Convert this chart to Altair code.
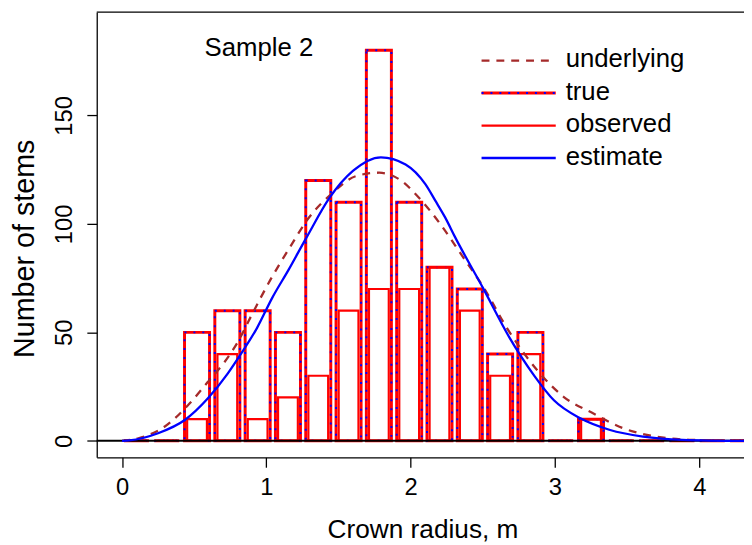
import altair as alt
import pandas as pd

# ---------------- data ----------------
bin_centers = [0.10, 0.31, 0.52, 0.73, 0.94, 1.15, 1.36, 1.57, 1.78, 1.99, 2.20,
               2.41, 2.62, 2.83, 3.04, 3.25, 3.46, 3.67, 3.88, 4.09, 4.30]
true_counts = [0, 0, 50, 60, 60, 50, 120, 110, 180, 110, 80,
               70, 40, 50, 0, 10, 0, 0, 0, 0, 0]
observed_counts = [0, 0, 10, 40, 10, 20, 30, 60, 70, 70, 80,
                   60, 30, 40, 0, 10, 0, 0, 0, 0, 0]

underlying_x = [0.0, 0.114, 0.297, 0.457, 0.594, 0.709, 0.80, 0.914, 1.028, 1.165,
                1.28, 1.463, 1.62, 1.782, 1.92, 2.056, 2.205, 2.354, 2.502, 2.673,
                2.879, 3.062, 3.267, 3.473, 3.70, 3.93, 4.31]
underlying_y = [0.0, 1.2, 6.6, 16.4, 27.1, 36.2, 45.3, 60.0, 74.2, 89.4,
                101.5, 114.5, 122.0, 123.6, 120.6, 112.2, 100.0, 85.6, 71.1, 51.4,
                32.4, 20.2, 12.6, 5.8, 2.0, 0.5, 0.0]

estimate_x = [0.0, 0.05, 0.25, 0.435, 0.594, 0.731, 0.823, 0.937, 1.04, 1.154,
              1.28, 1.44, 1.60, 1.794, 1.965, 2.102, 2.171, 2.239, 2.308, 2.502,
              2.685, 2.856, 2.993, 3.176, 3.382, 3.61, 3.885, 4.31]
estimate_y = [0.0, 0.2, 3.5, 9.6, 19.5, 30.9, 40.0, 52.2, 65.8, 78.8,
              93.9, 112.2, 124.4, 130.7, 127.4, 118.3, 110.7, 103.0, 93.9, 70.4,
              47.6, 30.1, 18.7, 10.4, 5.0, 2.0, 0.5, 0.0]

legend_labels = ["underlying", "true", "observed", "estimate"]
x_ticks = [0, 1, 2, 3, 4]
y_ticks = [0, 50, 100, 150]
panel_label = "Sample 2"
x_title = "Crown radius, m"
y_title = "Number of stems"

# ---------------- layout / style constants ----------------
W, H = 654.3, 450
X_DOMAIN = [-0.175, 4.31]
Y_DOMAIN = [-7.6, 197.6]
TRUE_HALF = 0.0867
OBS_HALF = 0.0685
FONT = "Liberation Sans"
RED, BLUE, BROWN = "#ff0000", "#0000ff", "#a52a2a"

bars = pd.DataFrame({"c": bin_centers, "t": true_counts, "o": observed_counts})
bars["base"] = 0
bars["tx1"] = bars["c"] - TRUE_HALF
bars["tx2"] = bars["c"] + TRUE_HALF
bars["ox1"] = bars["c"] - OBS_HALF
bars["ox2"] = bars["c"] + OBS_HALF

under = pd.DataFrame({"x": underlying_x, "y": underlying_y})
est = pd.DataFrame({"x": estimate_x, "y": estimate_y})

xs = alt.Scale(domain=X_DOMAIN, nice=False, zero=False)
ys = alt.Scale(domain=Y_DOMAIN, nice=False, zero=False)

x_axis = alt.Axis(values=x_ticks, title=x_title, tickSize=10, labelPadding=9,
                  labelFontSize=24, titleFontSize=26.5, titleX=329.3, titleY=80.7,
                  titleBaseline="alphabetic", titleAlign="center", labelFlush=False,
                  labelOverlap=False, grid=False)
y_axis = alt.Axis(values=y_ticks, title=y_title, tickSize=10, labelAngle=270,
                  labelAlign="center", labelBaseline="alphabetic", labelPadding=16,
                  labelFontSize=24, titleFontSize=29, titleX=-64.4, titleY=238.7,
                  titleAngle=270, titleBaseline="alphabetic", titleAlign="center",
                  labelFlush=False, labelOverlap=False, grid=False)


def X(field):
    return alt.X(field, scale=xs, axis=x_axis)


def Y(field):
    return alt.Y(field, scale=ys, axis=y_axis)


true_red = alt.Chart(bars).mark_rect(filled=False, stroke=RED, color=RED,
                                     strokeWidth=3, clip=True).encode(
    x=X("tx1:Q"), x2="tx2:Q", y=Y("t:Q"), y2="base:Q")
true_blue = alt.Chart(bars).mark_rect(filled=False, stroke=BLUE, color=BLUE,
                                      strokeWidth=2, strokeDash=[2, 7],
                                      clip=True).encode(
    x=X("tx1:Q"), x2="tx2:Q", y=Y("t:Q"), y2="base:Q")
obs = alt.Chart(bars).mark_rect(filled=False, stroke=RED, color=RED,
                                strokeWidth=2.2, clip=True).encode(
    x=X("ox1:Q"), x2="ox2:Q", y=Y("o:Q"), y2="base:Q")

zero_line = alt.Chart(pd.DataFrame({"z": [0]})).mark_rule(
    color="#000000", strokeWidth=2).encode(y=Y("z:Q"))

under_line = alt.Chart(under).mark_line(color=BROWN, strokeWidth=2.3,
                                        strokeDash=[8, 7], interpolate="monotone",
                                        clip=True).encode(x=X("x:Q"), y=Y("y:Q"))
est_line = alt.Chart(est).mark_line(color=BLUE, strokeWidth=2.3,
                                    interpolate="monotone", clip=True).encode(
    x=X("x:Q"), y=Y("y:Q"))

top_line = alt.Chart(pd.DataFrame({"k": [0]})).mark_rule(
    color="#000000", strokeWidth=1.3).encode(
    x=alt.value(0), x2=alt.value(W), y=alt.value(0))

layers = [true_red, true_blue, obs, zero_line, under_line, est_line, top_line]

# legend (no box), drawn in pixel space of the plot area
LX1, LX2, TX = 389, 464, 474
for i, lab in enumerate(legend_labels):
    ly = 49 + 32.8 * i
    ty = 55.7 + 32.8 * i
    d = pd.DataFrame({"label": [lab]})
    enc = dict(x=alt.value(LX1), x2=alt.value(LX2), y=alt.value(ly))
    if lab == "underlying":
        layers.append(alt.Chart(d).mark_rule(color=BROWN, strokeWidth=2.3,
                                             strokeDash=[8, 7]).encode(**enc))
    elif lab == "true":
        layers.append(alt.Chart(d).mark_rule(color=RED, strokeWidth=3).encode(**enc))
        layers.append(alt.Chart(d).mark_rule(color=BLUE, strokeWidth=2,
                                             strokeDash=[2, 7]).encode(**enc))
    elif lab == "observed":
        layers.append(alt.Chart(d).mark_rule(color=RED, strokeWidth=2.2).encode(**enc))
    else:
        layers.append(alt.Chart(d).mark_rule(color=BLUE, strokeWidth=2.3).encode(**enc))
    layers.append(alt.Chart(d).mark_text(font=FONT, fontSize=26, align="left",
                                         baseline="alphabetic", color="#000000").encode(
        x=alt.value(TX), y=alt.value(ty), text="label:N"))

layers.append(alt.Chart(pd.DataFrame({"label": [panel_label]})).mark_text(
    font=FONT, fontSize=26, align="left", baseline="alphabetic", color="#000000").encode(
    x=alt.value(109), y=alt.value(44.7), text="label:N"))

chart = alt.layer(*layers).properties(
    width=W, height=H,
    autosize=alt.AutoSizeParams(type="none"),
    padding={"left": 89.7, "top": 1.3, "right": 0, "bottom": 85.7},
    background="white",
).configure_view(stroke=None).configure_axis(
    domainColor="#000000", domainWidth=1.3, tickColor="#000000", tickWidth=1.3,
    labelColor="#000000", titleColor="#000000", labelFont=FONT, titleFont=FONT,
    titleFontWeight="normal",
)

chart.save("out.html", embed_options={"renderer": "svg", "actions": False})
